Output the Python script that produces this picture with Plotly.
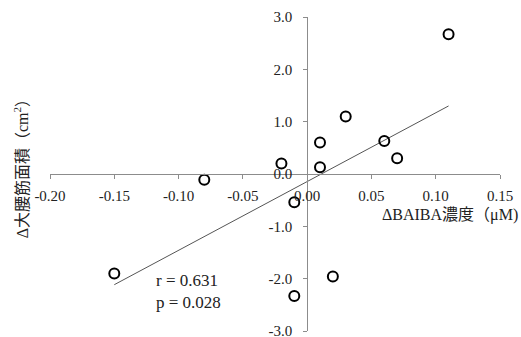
import numpy as np
import plotly.graph_objects as go

# data
baiba = [0.11, 0.03, 0.01, 0.06, 0.07, -0.02, 0.01, -0.08, -0.01, -0.15, 0.02, -0.01]
psoas = [2.67, 1.10, 0.60, 0.63, 0.30, 0.20, 0.13, -0.11, -0.54, -1.90, -1.96, -2.33]

x_ticks = [-0.20, -0.15, -0.10, -0.05, 0.00, 0.05, 0.10, 0.15]
x_ticktext = ["-0.20", "-0.15", "-0.10", "-0.05", "0.00", "0.05", "0.10", "0.15"]
y_ticks = [-3.0, -2.0, -1.0, 0.0, 1.0, 2.0, 3.0]
y_ticktext = ["-3.0", "-2.0", "-1.0", "0.0", "1.0", "2.0", "3.0"]

x_range = [-0.20, 0.15]
y_range = [-3.0, 3.0]

# least-squares trend line
slope, intercept = np.polyfit(baiba, psoas, 1)
tx = np.array([min(baiba), max(baiba)])
ty = slope * tx + intercept

FONT = "Liberation Serif, Noto Sans CJK JP"
AX = "#8c8c8c"

fig = go.Figure()
fig.add_trace(go.Scatter(x=tx, y=ty, mode="lines",
                         line=dict(color="#555555", width=1), hoverinfo="skip"))
fig.add_trace(go.Scatter(x=baiba, y=psoas, mode="markers",
                         marker=dict(symbol="circle-open", size=10, color="black",
                                     line=dict(width=2, color="black"))))

fig.update_layout(
    width=521, height=337,
    margin=dict(l=50, r=21, t=17, b=6, autoexpand=False),
    paper_bgcolor="white", plot_bgcolor="white",
    showlegend=False,
    font=dict(family=FONT, size=15, color="#222222"),
    xaxis=dict(range=x_range, tickvals=x_ticks, ticktext=x_ticktext,
               showgrid=False, zeroline=False, showline=True, linecolor=AX, linewidth=1,
               ticks="outside", ticklen=4, tickcolor=AX, tickwidth=1,
               anchor="free", position=(0 - y_range[0]) / (y_range[1] - y_range[0]),
               ticklabelstandoff=4, ticklabeloverflow="allow", automargin=False),
    yaxis=dict(range=y_range, tickvals=y_ticks, ticktext=y_ticktext,
               showgrid=False, zeroline=False, showline=True, linecolor=AX, linewidth=1,
               ticks="outside", ticklen=4, tickcolor=AX, tickwidth=1,
               anchor="free", position=(0 - x_range[0]) / (x_range[1] - x_range[0]),
               ticklabelstandoff=8, ticklabeloverflow="allow", automargin=False),
)

fig.add_annotation(text="ΔBAIBA濃度（μM)", xref="paper", yref="paper",
                   x=(380 - 50) / 450, y=0.5, yshift=-41, xanchor="left", yanchor="middle",
                   showarrow=False, font=dict(size=16))
fig.add_annotation(text="Δ大腰筋面積（cm<sup>2</sup>）", xref="paper", yref="paper",
                   x=-0.065, y=0.53, xanchor="center", yanchor="middle", textangle=-90,
                   showarrow=False, font=dict(size=16))
fig.add_annotation(text="r = 0.631<br>p = 0.028", xref="paper", yref="paper",
                   x=(154 - 50) / 450, y=0.125, xanchor="left", yanchor="middle", align="left",
                   showarrow=False, font=dict(size=17))

fig.write_html("out.html")
